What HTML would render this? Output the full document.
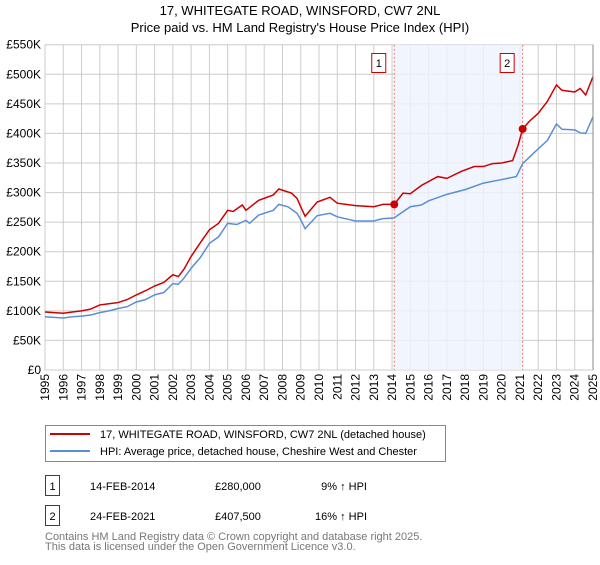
<!DOCTYPE html>
<html><head><meta charset="utf-8"><style>
body{margin:0;background:#fff;}
svg text{font-family:"Liberation Sans","DejaVu Sans",sans-serif;}
</style></head><body>
<svg id="chart" width="600" height="560" viewBox="0 0 600 560" xmlns="http://www.w3.org/2000/svg">
<text x="300" y="15" text-anchor="middle" font-size="13" fill="#000">17, WHITEGATE ROAD, WINSFORD, CW7 2NL</text>
<text x="300" y="32" text-anchor="middle" font-size="13" fill="#000">Price paid vs. HM Land Registry's House Price Index (HPI)</text>
<g id="grid"></g>
<g id="shade"></g>
<g id="series"></g>
<g id="axes"></g>
<g>
<rect x="45.5" y="425.5" width="400" height="36" fill="#fff" stroke="#888"/>
<line x1="50" y1="434" x2="90" y2="434" stroke="#cc0000" stroke-width="2"/>
<text x="100" y="438" font-size="11">17, WHITEGATE ROAD, WINSFORD, CW7 2NL (detached house)</text>
<line x1="50" y1="451" x2="90" y2="451" stroke="#5b8fd4" stroke-width="2"/>
<text x="100" y="455" font-size="11">HPI: Average price, detached house, Cheshire West and Chester</text>
</g>
<g>
<rect x="45.5" y="475.5" width="14" height="20" fill="#fff" stroke="#cc0000"/>
<text x="52.5" y="490" text-anchor="middle" font-size="11">1</text>
<text x="90" y="490" font-size="11">14-FEB-2014</text>
<text x="215" y="490" font-size="11">£280,000</text>
<text x="367" y="490" text-anchor="end" font-size="11">9% ↑ HPI</text>
<rect x="45.5" y="505.5" width="14" height="20" fill="#fff" stroke="#cc0000"/>
<text x="52.5" y="520" text-anchor="middle" font-size="11">2</text>
<text x="90" y="520" font-size="11">24-FEB-2021</text>
<text x="215" y="520" font-size="11">£407,500</text>
<text x="367" y="520" text-anchor="end" font-size="11">16% ↑ HPI</text>
</g>
<text x="45" y="540" font-size="11" fill="#777">Contains HM Land Registry data © Crown copyright and database right 2025.</text>
<text x="45" y="550" font-size="11" fill="#777">This data is licensed under the Open Government Licence v3.0.</text>
</svg>
<script>
const hpiYears=[1995,1995.5,1996,1996.5,1997,1997.5,1998,1998.5,1999,1999.5,2000,2000.5,2001,2001.5,2002,2002.3,2002.6,2003,2003.5,2004,2004.5,2005,2005.5,2006,2006.2,2006.7,2007.5,2007.8,2008.3,2008.8,2009,2009.24,2009.9,2010.6,2011,2012,2013,2013.5,2014.1,2015,2015.6,2016,2017,2018,2019,2020,2020.8,2021.15,2022,2022.5,2023,2023.3,2024,2024.3,2024.6,2025];
const hpiValues=[90,89,88,90,91,93,97,100,104,107,115,119,127,131,146,145,155,172,190,214,225,248,246,253,248,262,270,280,276,265,254,239,261,265,259,252,252,256,257,276,279,286,297,305,316,322,327,349,374,388,416,407,406,401,400,428];
const priceYears=[1995,1995.5,1996,1996.5,1997,1997.5,1998,1998.5,1999,1999.5,2000,2000.5,2001,2001.5,2002,2002.3,2002.6,2003,2003.5,2004,2004.5,2005,2005.3,2005.8,2006,2006.7,2007.5,2007.8,2008.5,2008.8,2009,2009.24,2009.9,2010.6,2011,2012,2013,2013.5,2014.12,2014.6,2015,2015.6,2016.5,2017,2017.8,2018.5,2019,2019.5,2020,2020.6,2020.9,2021.15,2021.5,2022,2022.5,2023,2023.3,2024,2024.3,2024.6,2025];
const priceValues=[98,97,96,98,100,103,110,112,114,119,127,134,142,148,161,158,170,192,215,237,248,270,268,279,270,287,296,306,299,290,276,260,284,292,282,278,276,280,280,299,298,312,327,324,336,344,344,349,350,354,380,407.5,420,434,454,482,473,470,476,465,496];
const saleYears=[2014.12,2021.15];
const saleValues=[280,407.5];
const saleLabels=["1","2"];
const yTicks=[0,50,100,150,200,250,300,350,400,450,500,550];
const yTickLabels=["£0","£50K","£100K","£150K","£200K","£250K","£300K","£350K","£400K","£450K","£500K","£550K"];
const xTicks=[1995,1996,1997,1998,1999,2000,2001,2002,2003,2004,2005,2006,2007,2008,2009,2010,2011,2012,2013,2014,2015,2016,2017,2018,2019,2020,2021,2022,2023,2024,2025];

const L=45,R=593,T=44.7,B=370;
const xs=y=>L+(y-1995)/(2025-1995)*(R-L);
const ys=v=>B-v/550*(B-T);
const NS="http://www.w3.org/2000/svg";
function mk(tag,attrs,parent,text){const e=document.createElementNS(NS,tag);for(const k in attrs)e.setAttribute(k,attrs[k]);if(text!==undefined)e.textContent=text;parent.appendChild(e);return e;}
const grid=document.getElementById('grid'),shade=document.getElementById('shade'),series=document.getElementById('series'),axes=document.getElementById('axes');
yTicks.forEach((t,i)=>{
  const l=mk('line',{x1:L,x2:R,y1:ys(t),y2:ys(t),stroke:'#ccc','stroke-width':1},grid);
  
  
  const tx=mk('text',{x:L-4,y:ys(t)+4,'text-anchor':'end','font-size':12},axes,yTickLabels[i]);
  
  
});
xTicks.forEach(t=>{
  const l=mk('line',{x1:xs(t),x2:xs(t),y1:T,y2:B,stroke:'#ccc','stroke-width':1},grid);
  
  
  const tx=mk('text',{x:0,y:0,'text-anchor':'end','font-size':12,transform:`translate(${xs(t)+4},${B+4}) rotate(-90)`},axes,String(t));
  
  
});
const band=mk('rect',{x:xs(saleYears[0]),y:T,width:xs(saleYears[1])-xs(saleYears[0]),height:B-T,fill:'#eef3fc',opacity:0.8},shade);


saleYears.forEach((y,i)=>{
  const l=mk('line',{x1:xs(y),x2:xs(y),y1:T,y2:B,stroke:'#f07070','stroke-dasharray':'2,2'},shade);
  
  
  const g=mk('g',{},shade);
  
  
  mk('rect',{x:xs(y)-22.5,y:53.5,width:14,height:19,fill:'#fff',stroke:'#cc0000'},g);
  mk('text',{x:xs(y)-15.5,y:67,'text-anchor':'middle','font-size':11},g,saleLabels[i]);
});
const hp=mk('polyline',{points:hpiYears.map((y,i)=>xs(y)+','+ys(hpiValues[i])).join(' '),fill:'none',stroke:'#5b8fd4','stroke-width':1.5},series);


const pp=mk('polyline',{points:priceYears.map((y,i)=>xs(y)+','+ys(priceValues[i])).join(' '),fill:'none',stroke:'#cc0000','stroke-width':1.5},series);


saleYears.forEach((y,i)=>{
  const c=mk('circle',{cx:xs(y),cy:ys(saleValues[i]),r:4,fill:'#cc0000'},series);
  
  
});
const ax=mk('line',{x1:R,x2:R,y1:T,y2:B,stroke:'#888'},axes);


</script>
</body></html>
